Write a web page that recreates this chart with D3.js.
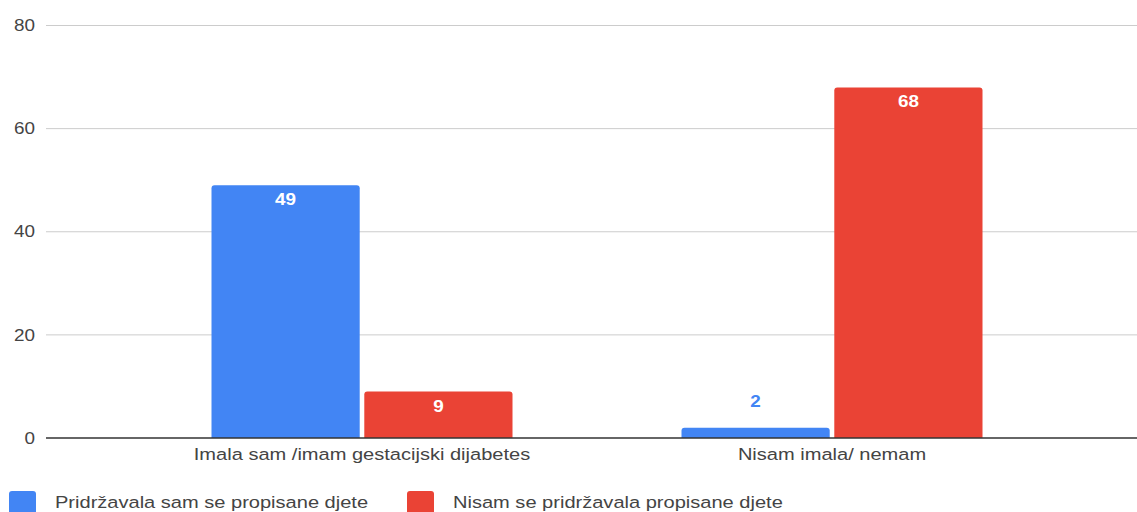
<!DOCTYPE html>
<html>
<head>
<meta charset="utf-8">
<script src="https://cdn.jsdelivr.net/npm/d3@7"></script>
<style>
  html, body { margin: 0; padding: 0; background: #fff; }
  svg { display: block; font-family: "Liberation Sans", Arial, sans-serif; }
</style>
</head>
<body>
<div id="chart"></div>
<script>
const categories = ["Imala sam /imam gestacijski dijabetes", "Nisam imala/ nemam"];
const seriesNames = ["Pridržavala sam se propisane djete", "Nisam se pridržavala propisane djete"];
const pridrzavala = [49, 2];
const nisamPridrzavala = [9, 68];
const yTicks = [0, 20, 40, 60, 80];
const colors = ["#4285F4", "#EA4335"];

const width = 1137, height = 512;
const sx = 1.18; // the reference text is a bit wider than tall
const svg = d3.select("#chart").append("svg")
  .attr("width", width).attr("height", height);

const y = d3.scaleLinear().domain([0, 80]).range([438, 25.5]);
const x = d3.scaleBand().domain(categories).range([127, 1067]).padding(0);
const inner = d3.scaleBand().domain([0, 1]).range([0, 301]).paddingInner(0.03);
const groupOffset = (x.bandwidth() - 301) / 2;

// grid
svg.append("g")
  .selectAll("line")
  .data(yTicks.filter(d => d !== 0))
  .join("line")
  .attr("x1", 46).attr("x2", width)
  .attr("y1", d => y(d)).attr("y2", d => y(d))
  .attr("stroke", "#cccccc").attr("stroke-width", 1);

// y axis labels
svg.append("g")
  .attr("transform", "translate(35,0)")
  .call(d3.axisLeft(y).tickValues(yTicks).tickSize(0).tickPadding(0))
  .call(g => g.select(".domain").remove())
  .call(g => g.selectAll("text")
    .attr("fill", "#444").attr("font-size", 16)
    .attr("font-family", "Liberation Sans, Arial, sans-serif")
    .attr("transform", `scale(${sx},1)`));

const data = categories.map((c, i) => ({ cat: c, vals: [pridrzavala[i], nisamPridrzavala[i]] }));

function topRounded(x0, y0, w, h, r) {
  r = Math.min(r, h, w / 2);
  return `M${x0},${y0 + h}V${y0 + r}Q${x0},${y0} ${x0 + r},${y0}H${x0 + w - r}Q${x0 + w},${y0} ${x0 + w},${y0 + r}V${y0 + h}Z`;
}

const groups = svg.append("g")
  .selectAll("g")
  .data(data)
  .join("g")
  .attr("transform", d => `translate(${x(d.cat) + groupOffset},0)`);

const bars = groups.selectAll("g")
  .data(d => d.vals.map((v, s) => ({ v, s })))
  .join("g");

bars.append("path")
  .attr("d", d => topRounded(inner(d.s), y(d.v), inner.bandwidth(), y(0) - y(d.v), 3))
  .attr("fill", d => colors[d.s]);

const inside = d => y(0) - y(d.v) > 30;
bars.append("g")
  .attr("transform", d => `translate(${inner(d.s) + inner.bandwidth() / 2},${inside(d) ? y(d.v) + 20 : y(d.v) - 21})`)
  .append("text")
  .attr("transform", `scale(${sx},1)`)
  .attr("text-anchor", "middle")
  .attr("font-size", 16)
  .attr("font-weight", "bold")
  .attr("fill", d => inside(d) ? "#ffffff" : colors[d.s])
  .text(d => d.v);

// baseline
svg.append("line")
  .attr("x1", 46).attr("x2", width)
  .attr("y1", y(0)).attr("y2", y(0))
  .attr("stroke", "#333").attr("stroke-width", 1.5);

// x axis labels
svg.append("g")
  .attr("transform", `translate(0,${y(0)})`)
  .call(d3.axisBottom(x).tickSize(0).tickPadding(10))
  .call(g => g.select(".domain").remove())
  .call(g => g.selectAll("text")
    .attr("fill", "#444").attr("font-size", 17)
    .attr("font-family", "Liberation Sans, Arial, sans-serif")
    .attr("transform", `scale(${sx},1)`));

// legend
const legendX = [9, 407];
const legend = svg.append("g")
  .selectAll("g")
  .data(seriesNames)
  .join("g")
  .attr("transform", (d, i) => `translate(${legendX[i]},491)`);

legend.append("rect")
  .attr("width", 27).attr("height", 24).attr("rx", 3)
  .attr("fill", (d, i) => colors[i]);

legend.append("g")
  .attr("transform", "translate(46,17)")
  .append("text")
  .attr("transform", `scale(${sx},1)`)
  .attr("font-size", 17)
  .attr("fill", "#444")
  .text(d => d);
</script>
</body>
</html>
